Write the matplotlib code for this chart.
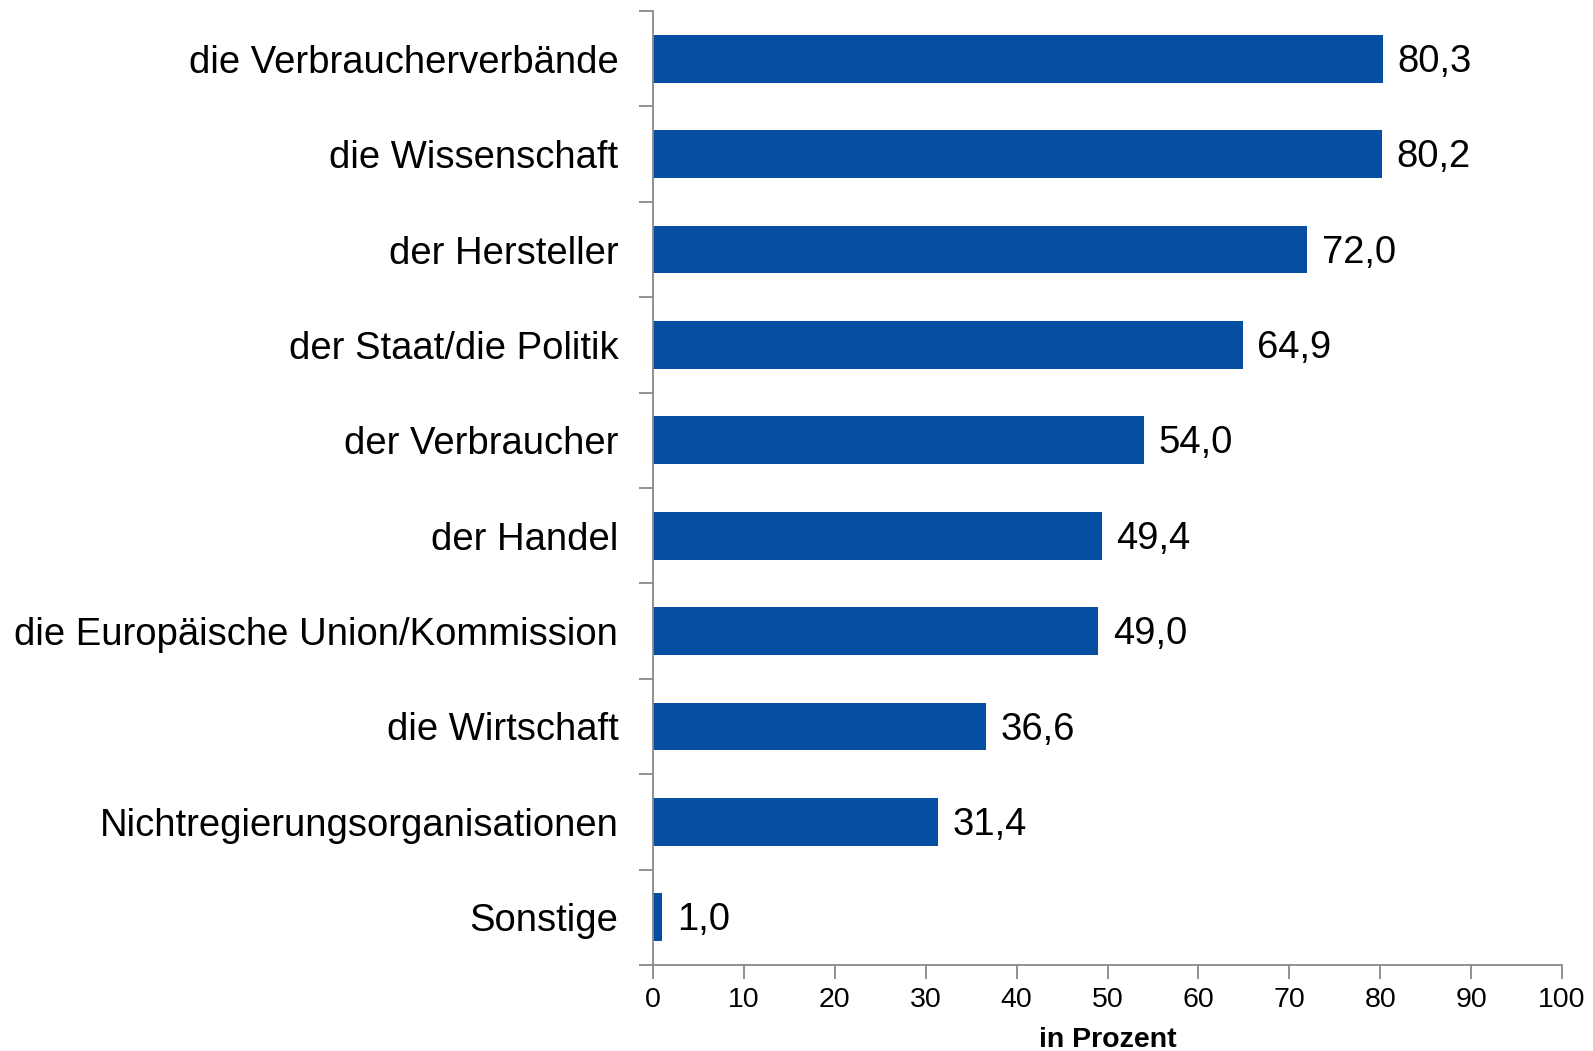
import matplotlib.pyplot as plt
import numpy as np

categories = ["die Verbraucherverbände", "die Wissenschaft", "der Hersteller",
              "der Staat/die Politik", "der Verbraucher", "der Handel",
              "die Europäische Union/Kommission", "die Wirtschaft",
              "Nichtregierungsorganisationen", "Sonstige"]
values = [80.3, 80.2, 72.0, 64.9, 54.0, 49.4, 49.0, 36.6, 31.4, 1.0]
xticks = [0, 10, 20, 30, 40, 50, 60, 70, 80, 90, 100]

plt.rcParams['font.family'] = ['Liberation Sans', 'DejaVu Sans']

fig = plt.figure(figsize=(15.93, 10.51), dpi=100)
ax = fig.add_axes([653 / 1593, 1 - 965 / 1051, (1562 - 653) / 1593, (965 - 11) / 1051])

y = np.arange(len(categories))
ax.barh(y, values, height=0.5, color='#054EA2')
for yi, v in zip(y, values):
    ax.text(v + 1.6, yi - 0.01, f"{v:.1f}".replace('.', ','), va='center_baseline',
            ha='left', fontsize=27.5)

ax.set_xlim(0, 100)
ax.set_ylim(len(categories) - 0.5, -0.5)
ax.set_xticks(xticks)
ax.set_xticklabels([str(t) for t in xticks], fontsize=20.5)
ax.set_yticks(y)
ax.set_yticklabels(categories, fontsize=27.5)
ax.set_yticks(np.arange(len(categories) + 1) - 0.5, minor=True)
ax.tick_params(axis='y', which='major', length=0, pad=25)
ax.tick_params(axis='y', which='minor', length=10, color='#888888', width=1.3)
ax.tick_params(axis='x', length=10, color='#888888', width=1.3, pad=6)
for s in ['top', 'right']:
    ax.spines[s].set_visible(False)
for s in ['left', 'bottom']:
    ax.spines[s].set_color('#888888')
    ax.spines[s].set_linewidth(1.3)
ax.set_xlabel('in Prozent', fontsize=20.5, fontweight='bold', labelpad=10)

fig.savefig('out.png', dpi=100)
